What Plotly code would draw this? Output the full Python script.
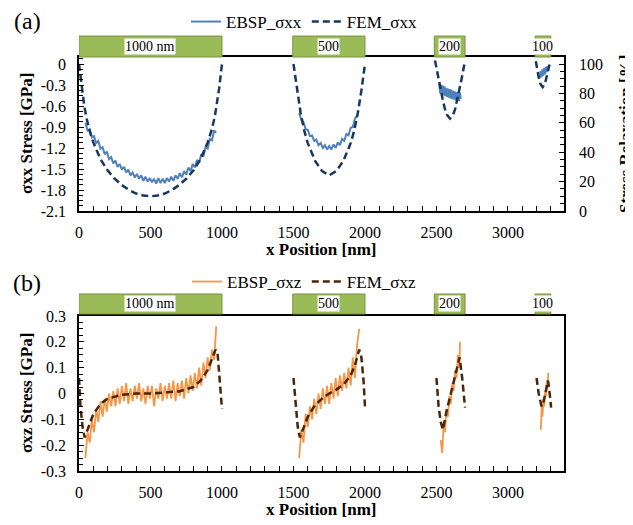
import plotly.graph_objects as go

# ---------------- data ----------------
# structure widths (green bars)
bar_start = [0, 1495, 2485, 3190]
bar_end = [1000, 2000, 2700, 3300]
bar_labels = ["1000 nm", "500", "200", "100"]

# x ticks
x_tickvals = [0, 500, 1000, 1500, 2000, 2500, 3000]
x_ticktext = ["0", "500", "1000", "1500", "2000", "2500", "3000"]
yxx_tickvals = [0, -0.3, -0.6, -0.9, -1.2, -1.5, -1.8, -2.1]
yxx_ticktext = ["0", "-0.3", "-0.6", "-0.9", "-1.2", "-1.5", "-1.8", "-2.1"]
yxz_tickvals = [0.3, 0.2, 0.1, 0, -0.1, -0.2, -0.3]
yxz_ticktext = ["0.3", "0.2", "0.1", "0", "-0.1", "-0.2", "-0.3"]
rel_tickvals = [0, 20, 40, 60, 80, 100]

# ---- EBSP sigma_xx (panel a) ----
ebsp_xx_x1 = list(range(45, 961, 15))
ebsp_xx_y1 = [-0.84, -0.95, -0.93, -1.05, -1.03, -1.13, -1.10, -1.21, -1.19, -1.29,
              -1.25, -1.36, -1.33, -1.42, -1.38, -1.47, -1.43, -1.51, -1.47, -1.55,
              -1.51, -1.59, -1.55, -1.62, -1.57, -1.64, -1.59, -1.67, -1.61, -1.68,
              -1.63, -1.69, -1.64, -1.71, -1.63, -1.70, -1.64, -1.70, -1.63, -1.68,
              -1.61, -1.67, -1.59, -1.64, -1.56, -1.62, -1.53, -1.58, -1.48, -1.53,
              -1.43, -1.48, -1.37, -1.41, -1.29, -1.32, -1.19, -1.21, -1.07, -1.09,
              -0.95, -0.98]
ebsp_xx_x2 = list(range(1540, 1946, 15))
ebsp_xx_y2 = [-0.70, -0.80, -0.83, -0.93, -0.94, -1.03, -1.02, -1.10, -1.08, -1.16,
              -1.13, -1.20, -1.16, -1.22, -1.17, -1.22, -1.15, -1.20, -1.12, -1.16,
              -1.07, -1.10, -1.00, -1.02, -0.91, -0.90, -0.78, -0.74]
ebsp_xx_x3 = list(range(2520, 2671, 6))
ebsp_xx_y3 = [-0.28, -0.42, -0.30, -0.44, -0.31, -0.45, -0.32, -0.46, -0.34, -0.47,
              -0.35, -0.48, -0.36, -0.49, -0.37, -0.50, -0.38, -0.51, -0.39, -0.52,
              -0.40, -0.53, -0.40, -0.53, -0.41, -0.50]
ebsp_xx_x4 = [3222, 3228, 3234, 3240, 3246, 3252, 3258, 3264, 3270, 3276, 3280]
ebsp_xx_y4 = [-0.20, -0.10, -0.19, -0.08, -0.17, -0.06, -0.15, -0.04, -0.12, -0.03, -0.08]

# ---- FEM sigma_xx (panel a) ----
fem_xx_x1 = [0, 10, 20, 35, 50, 75, 100, 150, 200, 250, 300, 350, 400, 450, 500,
             550, 600, 650, 700, 750, 800, 850, 900, 925, 950, 965, 980, 990, 1000]
fem_xx_y1 = [0, -0.18, -0.35, -0.57, -0.75, -0.96, -1.12, -1.36, -1.52, -1.64, -1.73,
             -1.80, -1.85, -1.88, -1.89, -1.88, -1.85, -1.80, -1.73, -1.64, -1.52,
             -1.36, -1.12, -0.96, -0.75, -0.57, -0.35, -0.18, 0]
fem_xx_x2 = [1500, 1510, 1525, 1550, 1575, 1600, 1650, 1700, 1750, 1800, 1850, 1900,
             1925, 1950, 1975, 1990, 2000]
fem_xx_y2 = [0, -0.15, -0.38, -0.70, -0.95, -1.13, -1.38, -1.53, -1.59, -1.53, -1.38,
             -1.13, -0.95, -0.70, -0.38, -0.15, 0]
fem_xx_x3 = [2490, 2500, 2515, 2530, 2545, 2560, 2575, 2595, 2615, 2630, 2645, 2660,
             2675, 2690, 2700]
fem_xx_y3 = [0.05, -0.06, -0.22, -0.37, -0.52, -0.65, -0.73, -0.78, -0.73, -0.65,
             -0.52, -0.37, -0.22, -0.06, 0.05]
fem_xx_x4 = [3195, 3205, 3215, 3228, 3243, 3258, 3271, 3283, 3295]
fem_xx_y4 = [0.04, -0.08, -0.19, -0.29, -0.33, -0.29, -0.19, -0.08, 0.03]

# ---- EBSP sigma_xz (panel b) ----
ebsp_xz_x1 = list(range(45, 961, 15))
ebsp_xz_y1 = [-0.25, -0.15, -0.19, -0.10, -0.15, -0.06, -0.11, -0.03, -0.09, -0.02,
              -0.07, 0.00, -0.05, 0.01, -0.05, 0.02, -0.04, 0.03, -0.03, 0.04,
              -0.04, 0.02, -0.03, 0.03, -0.02, 0.04, -0.03, 0.02, -0.04, 0.03,
              -0.02, 0.03, -0.05, 0.02, -0.02, 0.04, -0.03, 0.03, -0.02, 0.04,
              -0.02, 0.05, -0.03, 0.04, -0.01, 0.05, -0.02, 0.06, 0.00, 0.07,
              0.01, 0.08, 0.02, 0.10, 0.03, 0.12, 0.06, 0.14, 0.09, 0.17,
              0.13, 0.26]
ebsp_xz_x2 = list(range(1540, 1961, 15))
ebsp_xz_y2 = [-0.25, -0.14, -0.19, -0.08, -0.13, -0.05, -0.10, -0.02, -0.08, 0.00,
              -0.06, 0.02, -0.04, 0.03, -0.04, 0.04, -0.02, 0.06, -0.01, 0.07,
              0.01, 0.08, 0.02, 0.10, 0.03, 0.14, 0.06, 0.19, 0.25]
ebsp_xz_x3 = [2530, 2540, 2550, 2560, 2570, 2580, 2590, 2600, 2610, 2620, 2630, 2640,
              2650, 2660, 2665]
ebsp_xz_y3 = [-0.18, -0.23, -0.12, -0.15, -0.06, -0.09, -0.01, -0.04, 0.04, 0.01,
              0.09, 0.06, 0.15, 0.10, 0.20]
ebsp_xz_x4 = [3230, 3236, 3242, 3248, 3254, 3260, 3266, 3272, 3278, 3282]
ebsp_xz_y4 = [-0.14, -0.05, -0.09, -0.02, -0.05, 0.01, -0.01, 0.05, 0.02, 0.08]

# ---- FEM sigma_xz (panel b) ----
fem_xz_x1 = [0, 10, 25, 40, 60, 100, 150, 200, 300, 400, 500, 600, 700, 800, 850,
             900, 930, 955, 970, 985, 1000]
fem_xz_y1 = [0.06, -0.05, -0.13, -0.17, -0.14, -0.08, -0.04, -0.02, -0.005, 0.0, 0.0,
             0.003, 0.008, 0.025, 0.05, 0.09, 0.13, 0.17, 0.15, 0.05, -0.06]
fem_xz_x2 = [1500, 1515, 1530, 1545, 1565, 1600, 1650, 1700, 1750, 1800, 1850, 1900,
             1930, 1960, 1975, 1990, 2000]
fem_xz_y2 = [0.06, -0.05, -0.13, -0.17, -0.14, -0.09, -0.045, -0.02, 0.0, 0.015,
             0.035, 0.07, 0.11, 0.17, 0.14, 0.05, -0.05]
fem_xz_x3 = [2500, 2515, 2530, 2545, 2570, 2600, 2630, 2650, 2662, 2680, 2700]
fem_xz_y3 = [0.06, -0.05, -0.11, -0.14, -0.07, 0.0, 0.07, 0.12, 0.14, 0.06, -0.055]
fem_xz_x4 = [3200, 3215, 3235, 3250, 3265, 3280, 3292, 3302]
fem_xz_y4 = [0.06, 0.0, -0.05, -0.03, 0.01, 0.05, 0.0, -0.055]


def join(*segs):
    out = []
    for i, s in enumerate(segs):
        if i:
            out.append(None)
        out.extend(s)
    return out


# ---------------- layout geometry ----------------
# page body adds an 8px margin; the figure is sized so the window layout matches
OFF = 8
W, H = 633 - OFF, 525 - OFF
ML, MR, MT, MB = 79 - OFF, 69, 57 - OFF, 54
PW, PH = W - ML - MR, H - MT - MB


def px(xp):
    return (xp - OFF - ML) / PW


def py(yp):
    return (H - MB - (yp - OFF)) / PH


top_dom = [py(211), 1.0]
bot_dom = [0.0, py(316)]

FONT = "Liberation Serif"
BLUE = "#4F81BD"
NAVY = "#17375E"
ORANGE = "#F79646"
BROWN = "#4A2508"
GREEN = "#9BBB59"
GREEN_EDGE = "#77933C"

fig = go.Figure()

fig.add_trace(go.Scatter(
    x=join(ebsp_xx_x1, ebsp_xx_x2, ebsp_xx_x3, ebsp_xx_x4),
    y=join(ebsp_xx_y1, ebsp_xx_y2, ebsp_xx_y3, ebsp_xx_y4),
    mode="lines", name="EBSP_σxx", line=dict(color=BLUE, width=2),
    xaxis="x", yaxis="y", legend="legend"))
fig.add_trace(go.Scatter(
    x=join(fem_xx_x1, fem_xx_x2, fem_xx_x3, fem_xx_x4),
    y=join(fem_xx_y1, fem_xx_y2, fem_xx_y3, fem_xx_y4),
    mode="lines", name="FEM_σxx", line=dict(color=NAVY, width=2.5, dash="7px,4px"),
    xaxis="x", yaxis="y", legend="legend"))
fig.add_trace(go.Scatter(
    x=join(ebsp_xz_x1, ebsp_xz_x2, ebsp_xz_x3, ebsp_xz_x4),
    y=join(ebsp_xz_y1, ebsp_xz_y2, ebsp_xz_y3, ebsp_xz_y4),
    mode="lines", name="EBSP_σxz", line=dict(color=ORANGE, width=1.8),
    xaxis="x2", yaxis="y2", legend="legend2"))
fig.add_trace(go.Scatter(
    x=join(fem_xz_x1, fem_xz_x2, fem_xz_x3, fem_xz_x4),
    y=join(fem_xz_y1, fem_xz_y2, fem_xz_y3, fem_xz_y4),
    mode="lines", name="FEM_σxz", line=dict(color=BROWN, width=2.5, dash="7px,4px"),
    xaxis="x2", yaxis="y2", legend="legend2"))
# invisible trace to anchor right axis
fig.add_trace(go.Scatter(x=[None], y=[None], xaxis="x", yaxis="y3",
                         showlegend=False, hoverinfo="skip"))

tickfont = dict(family=FONT, size=16, color="black")
xcommon = dict(range=[0, 3392], tickmode="array", tickvals=x_tickvals, ticktext=x_ticktext,
               ticks="inside", ticklen=5, tickcolor="black", tickwidth=1,
               minor=dict(tickmode="linear", tick0=0, dtick=100, ticks="inside",
                          ticklen=5, tickcolor="black", tickwidth=1),
               showline=True, linecolor="black", linewidth=1.5, mirror=True,
               showgrid=False, zeroline=False, tickfont=tickfont,
               ticklabelstandoff=6, automargin=False)
fig.update_layout(
    width=W, height=H, margin=dict(l=ML, r=MR, t=MT, b=MB, autoexpand=False),
    paper_bgcolor="white", plot_bgcolor="white",
    font=dict(family=FONT, color="black"),
    xaxis=dict(domain=[0, 1], anchor="y", **xcommon),
    xaxis2=dict(domain=[0, 1], anchor="y2", **xcommon),
    yaxis=dict(domain=top_dom, anchor="x", range=[-2.1, 0.1], tickmode="array",
               tickvals=yxx_tickvals, ticktext=yxx_ticktext, ticks="inside",
               ticklen=5, tickcolor="black",
               minor=dict(tickmode="linear", tick0=0, dtick=0.075, ticks="inside",
                          ticklen=4, tickcolor="black"),
               showline=True, linecolor="black", linewidth=1.5, mirror=True,
               showgrid=False, zeroline=False, tickfont=tickfont, ticklabelstandoff=8,
               automargin=False),
    yaxis3=dict(overlaying="y", side="right", anchor="x", range=[0, 104.76],
                tickmode="array", tickvals=rel_tickvals, ticks="inside", ticklen=5,
                tickcolor="black",
                minor=dict(tickmode="linear", tick0=0, dtick=5, ticks="inside",
                           ticklen=4, tickcolor="black"),
                showline=True, linecolor="black", linewidth=1.5,
                showgrid=False, zeroline=False, tickfont=tickfont, ticklabelstandoff=10,
                automargin=False),
    yaxis2=dict(domain=bot_dom, anchor="x2", range=[-0.3, 0.3], tickmode="array",
                tickvals=yxz_tickvals, ticktext=yxz_ticktext, ticks="inside",
                ticklen=5, tickcolor="black",
                minor=dict(tickmode="linear", tick0=0, dtick=0.025, ticks="inside",
                           ticklen=4, tickcolor="black"),
                showline=True, linecolor="black", linewidth=1.5, mirror=True,
                showgrid=False, zeroline=False, tickfont=tickfont, ticklabelstandoff=8,
                automargin=False),
    legend=dict(orientation="h", x=px(304), y=py(22), xanchor="center", yanchor="middle",
                font=dict(family=FONT, size=17), bgcolor="rgba(0,0,0,0)",
                itemwidth=30, tracegroupgap=0),
    legend2=dict(orientation="h", x=px(304), y=py(282), xanchor="center", yanchor="middle",
                 font=dict(family=FONT, size=17), bgcolor="rgba(0,0,0,0)",
                 itemwidth=30, tracegroupgap=0),
    showlegend=True,
)

shapes = []
annotations = []
for yref, y0, y1 in (("y domain", 1.0, 1.136), ("y2 domain", 1.013, 1.142)):
    for s, e, lab in zip(bar_start, bar_end, bar_labels):
        shapes.append(dict(type="rect", xref="x", yref=yref, x0=s, x1=e, y0=y0, y1=y1,
                           fillcolor=GREEN, line=dict(color=GREEN_EDGE, width=1),
                           layer="above"))
        annotations.append(dict(xref="x", yref=yref, x=(s + e) / 2, y=(y0 + y1) / 2,
                                text=lab, showarrow=False, bgcolor="white", borderpad=0,
                                font=dict(family=FONT, size=14, color="black"),
                                xanchor="center", yanchor="middle"))

title_font = dict(family=FONT, size=17, color="black", weight="bold")
annotations += [
    dict(xref="paper", yref="paper", x=px(27), y=py(21), text="(a)", showarrow=False,
         font=dict(family=FONT, size=24), xanchor="center", yanchor="middle"),
    dict(xref="paper", yref="paper", x=px(27), y=py(283), text="(b)", showarrow=False,
         font=dict(family=FONT, size=24), xanchor="center", yanchor="middle"),
    dict(xref="paper", yref="paper", x=px(26), y=py(134), text="σxx Stress [GPa]",
         textangle=-90, showarrow=False, font=title_font, xanchor="center", yanchor="middle"),
    dict(xref="paper", yref="paper", x=px(26), y=py(393), text="σxz Stress [GPa]",
         textangle=-90, showarrow=False, font=title_font, xanchor="center", yanchor="middle"),
    dict(xref="paper", yref="paper", x=px(625), y=py(134), text="Stress Relaxation [%]",
         textangle=-90, showarrow=False, font=title_font, xanchor="center", yanchor="middle"),
    dict(xref="paper", yref="paper", x=px(321), y=py(250), text="x Position [nm]",
         showarrow=False, font=title_font, xanchor="center", yanchor="middle"),
    dict(xref="paper", yref="paper", x=px(321), y=py(509), text="x Position [nm]",
         showarrow=False, font=title_font, xanchor="center", yanchor="middle"),
]
fig.update_layout(shapes=shapes, annotations=annotations)

fig.write_html("out.html")
